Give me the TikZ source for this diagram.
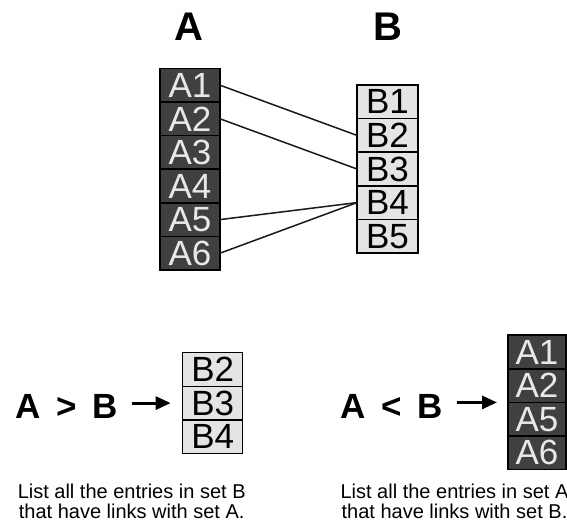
\documentclass[tikz,border=0pt]{standalone}
\usepackage{fontspec}
\setmainfont{Liberation Sans}
\usetikzlibrary{arrows.meta,positioning}
\definecolor{setdark}{HTML}{404040}
\definecolor{setlight}{HTML}{E4E4E4}
\definecolor{setink}{HTML}{E8E8E8}

\begin{document}
\begin{tikzpicture}[
  x=1pt, y=-1pt,
  title/.style={
    font=\fontsize{40}{40}\selectfont\bfseries,
    inner sep=0pt
  },
  rel/.style={
    font=\fontsize{35}{35}\selectfont\bfseries,
    inner sep=0pt
  },
  acell/.style={
    draw=black,
    line width=1.5pt,
    fill=setdark,
    text=setink,
    font=\fontsize{35}{35}\selectfont,
    minimum width=60pt,
    minimum height=33.6pt,
    inner sep=0pt,
    outer sep=0pt
  },
  bcell/.style={
    acell,
    fill=setlight,
    text=black
  },
  note/.style={
    align=center,
    font=\fontsize{20}{20}\selectfont,
    inner sep=0pt
  },
  link/.style={line width=1.5pt, draw=black!90},
  arrow/.style={-{Triangle[length=15pt,width=13pt]}, line width=3pt}
]
\useasboundingbox (0,0) rectangle (567,524);

% top: the two sets
\node[title] (titleA) at (189,27) {A};
\node[title] (titleB) at (388,27) {B};

\node[acell] (a1) at (190,85.2) {A1};
\node[acell, below=0pt of a1] (a2) {A2};
\node[acell, below=0pt of a2] (a3) {A3};
\node[acell, below=0pt of a3] (a4) {A4};
\node[acell, below=0pt of a4] (a5) {A5};
\node[acell, below=0pt of a5] (a6) {A6};

\node[bcell, minimum width=61pt] (b1) at (387.5,101.8) {B1};
\node[bcell, minimum width=61pt, below=0pt of b1] (b2) {B2};
\node[bcell, minimum width=61pt, below=0pt of b2] (b3) {B3};
\node[bcell, minimum width=61pt, below=0pt of b3] (b4) {B4};
\node[bcell, minimum width=61pt, below=0pt of b4] (b5) {B5};

\draw[link] (a1.east) -- (b2.west);
\draw[link] (a2.east) -- (b3.west);
\draw[link] (a5.east) -- (b4.west);
\draw[link] (a6.east) -- (b4.west);

% bottom left: A > B
\node[rel, anchor=base west] (gt) at (15,418) {A\, > \,B};
\node[bcell] (gb2) at (212.7,369.5) {B2};
\node[bcell, below=0pt of gb2] (gb3) {B3};
\node[bcell, below=0pt of gb3] (gb4) {B4};
\draw[arrow, shorten <=14pt, shorten >=12pt] (gt.east |- gb3.west) -- (gb3.west);
\node[note] (gtnote) at (131.7,501) {List all the entries in set B\\that have links with set A.};

% bottom right: A < B
\node[rel, anchor=base west] (lt) at (340,418) {A\, < \,B};
\node[acell, minimum width=58pt] (la1) at (537,352) {A1};
\node[acell, minimum width=58pt, below=0pt of la1] (la2) {A2};
\node[acell, minimum width=58pt, below=0pt of la2] (la5) {A5};
\node[acell, minimum width=58pt, below=0pt of la5] (la6) {A6};
\draw[arrow, shorten <=14pt, shorten >=11pt] (lt.east |- la2.south west) -- (la2.south west);
\node[note] (ltnote) at (454.5,501) {List all the entries in set A\\that have links with set B.};
\end{tikzpicture}
\end{document}
